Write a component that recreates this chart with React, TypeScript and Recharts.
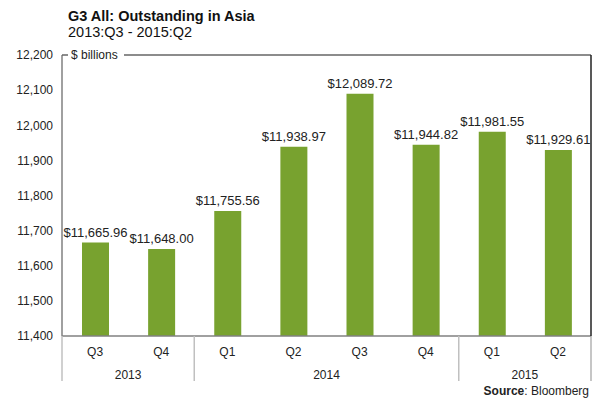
import React from 'react';
import { BarChart, Bar, XAxis, YAxis, LabelList } from 'recharts';

const quarters = ['Q3', 'Q4', 'Q1', 'Q2', 'Q3', 'Q4', 'Q1', 'Q2'];
const years = ['2013', '2013', '2014', '2014', '2014', '2014', '2015', '2015'];
const outstanding = [11665.96, 11648.0, 11755.56, 11938.97, 12089.72, 11944.82, 11981.55, 11929.61];
const yTicks = [11400, 11500, 11600, 11700, 11800, 11900, 12000, 12100, 12200];

const data = quarters.map((q, i) => ({ quarter: q, year: years[i], value: outstanding[i] }));

const FONT = '"Liberation Sans", Arial, sans-serif';
const W = 600;
const H = 401;
const TOP = 55;
const LEFT = 62;
const RIGHT = 591;
const BOTTOM = 336;
const BAND = (RIGHT - LEFT) / data.length;

const fmtMoney = (v: number) =>
    `$${v.toLocaleString('en-US', { minimumFractionDigits: 2, maximumFractionDigits: 2 })}`;

const QuarterTick = (props: any) => {
    const { x, payload } = props;
    const i = payload.index;
    const year = years[i];
    const isFirst = i === 0 || years[i - 1] !== year;
    const isLast = i === years.length - 1;
    const count = years.filter((y) => y === year).length;
    const groupStart = x - BAND / 2;
    return (
        <g>
            <text x={x} y={BOTTOM + 16} dy="0.35em" textAnchor="middle" fontSize={12} fill="#222" fontFamily={FONT}>
                {quarters[i]}
            </text>
            {isFirst && (
                <>
                    <line x1={groupStart} x2={groupStart} y1={BOTTOM} y2={BOTTOM + 45} stroke="#c0c0c0" strokeWidth={1.5} />
                    <text x={groupStart + (count * BAND) / 2} y={BOTTOM + 39} dy="0.35em" textAnchor="middle" fontSize={12} fill="#222" fontFamily={FONT}>
                        {year}
                    </text>
                </>
            )}
            {isLast && (
                <line x1={x + BAND / 2} x2={x + BAND / 2} y1={BOTTOM} y2={BOTTOM + 45} stroke="#a0a0a0" strokeWidth={1.2} />
            )}
        </g>
    );
};

const App: React.FC = () => {
    return (
        <div style={{ position: 'absolute', left: 0, top: 0, width: W, height: H, background: '#fff', fontFamily: FONT }}>
            <div style={{ position: 'absolute', left: 68, top: 7, fontSize: 14.5, fontWeight: 700, color: '#111', lineHeight: '18px' }}>
                G3 All: Outstanding in Asia
            </div>
            <div style={{ position: 'absolute', left: 68, top: 23, fontSize: 14.5, color: '#111', lineHeight: '18px' }}>
                2013:Q3 - 2015:Q2
            </div>

            <BarChart
                width={W}
                height={H}
                data={data}
                margin={{ top: TOP, right: W - RIGHT, bottom: 0, left: 0 }}
                barCategoryGap={0}
            >
                <YAxis
                    width={LEFT}
                    domain={[11400, 12200]}
                    ticks={yTicks}
                    allowDataOverflow
                    axisLine={{ stroke: '#808080', strokeWidth: 1.5 }}
                    tickLine={false}
                    tickMargin={3}
                    tickFormatter={(v: number) => v.toLocaleString('en-US')}
                    tick={{ fontSize: 12, fill: '#222', fontFamily: FONT }}
                />
                <XAxis
                    dataKey="quarter"
                    height={H - BOTTOM}
                    axisLine={{ stroke: '#808080', strokeWidth: 1.5 }}
                    tickLine={false}
                    interval={0}
                    tick={<QuarterTick />}
                />
                <Bar dataKey="value" fill="#78a22f" barSize={27} isAnimationActive={false}>
                    <LabelList
                        dataKey="value"
                        position="top"
                        offset={6}
                        formatter={(v: any) => fmtMoney(Number(v))}
                        style={{ fontSize: 13, fill: '#222', fontFamily: FONT }}
                    />
                </Bar>
            </BarChart>

            <svg width={W} height={H} style={{ position: 'absolute', left: 0, top: 0, pointerEvents: 'none' }}>
                <line x1={LEFT} x2={68} y1={TOP} y2={TOP} stroke="#666" strokeWidth={1.5} />
                <line x1={124} x2={RIGHT} y1={TOP} y2={TOP} stroke="#666" strokeWidth={1.5} />
                <line x1={RIGHT} x2={RIGHT} y1={TOP} y2={BOTTOM} stroke="#222" strokeWidth={1.5} />
                <text x={71} y={TOP} dy="0.35em" fontSize={12} fill="#222" fontFamily={FONT}>
                    $ billions
                </text>
                <text x={589} y={391} dy="0.35em" textAnchor="end" fontSize={12} fill="#222" fontFamily={FONT}>
                    <tspan fontWeight={700}>Source</tspan>: Bloomberg
                </text>
            </svg>
        </div>
    );
};

export default App;
